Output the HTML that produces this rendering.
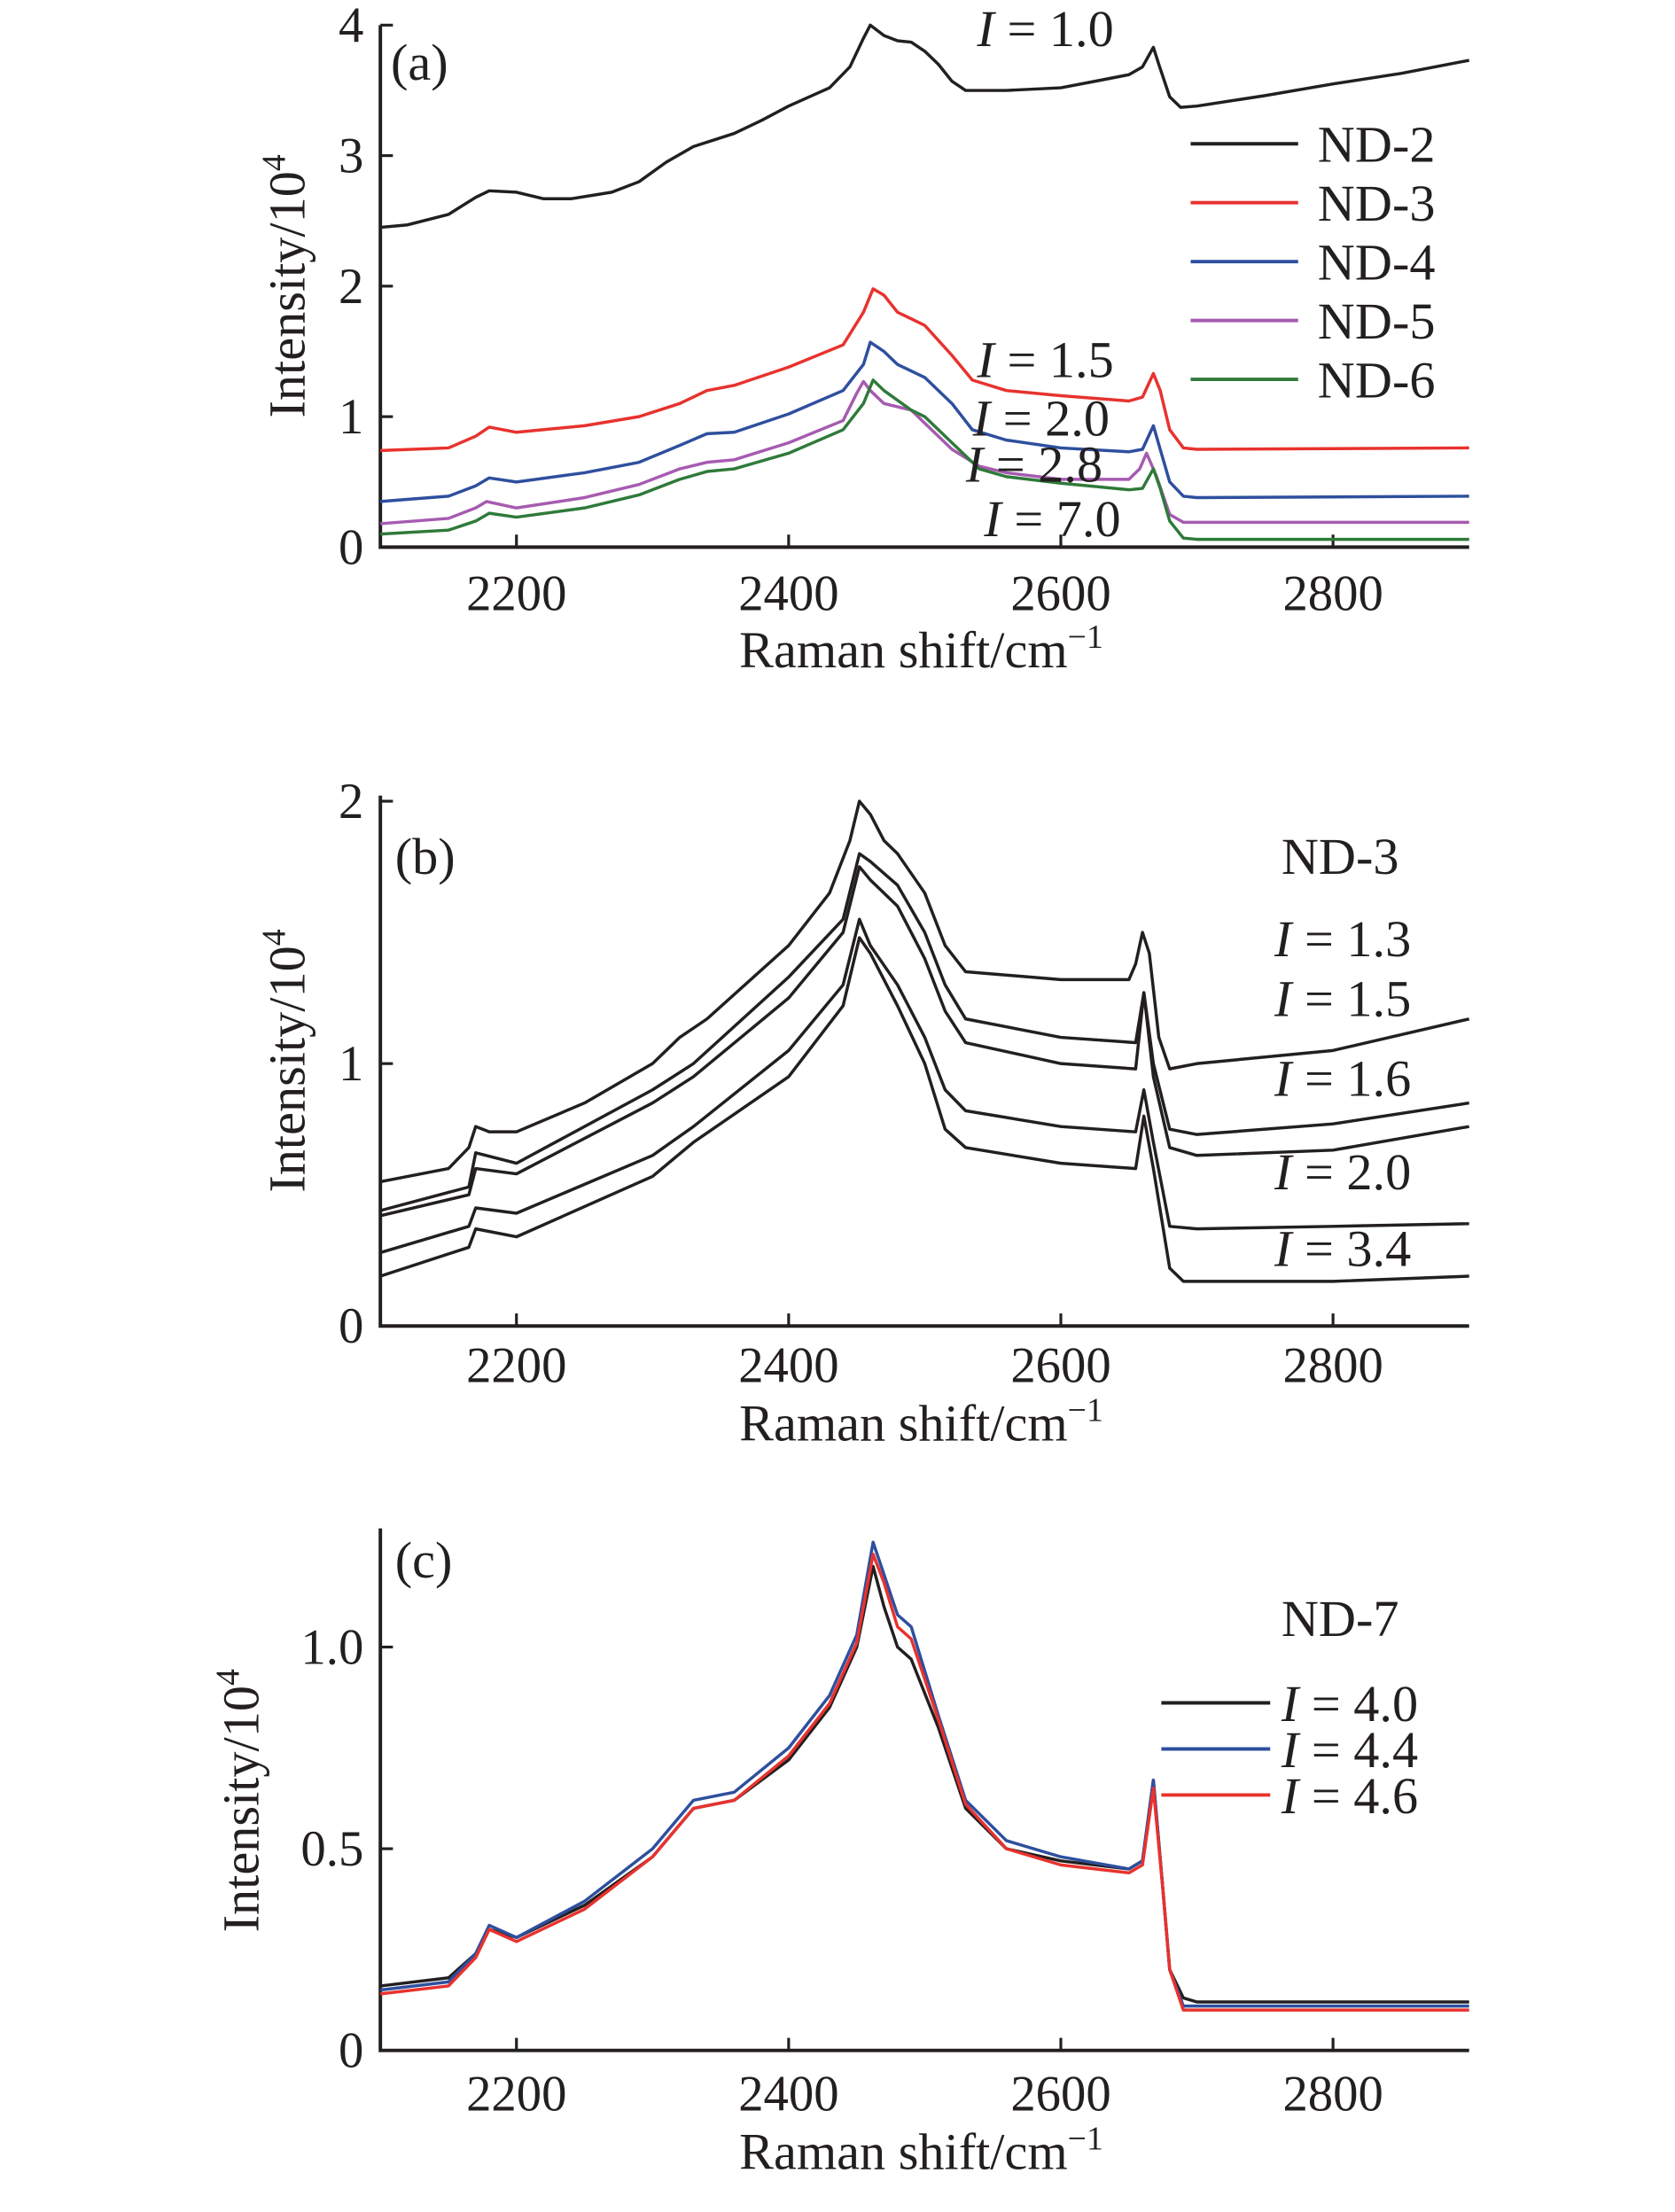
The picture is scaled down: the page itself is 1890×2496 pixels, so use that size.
<!DOCTYPE html>
<html><head><meta charset="utf-8"><style>
html,body{margin:0;padding:0;background:#fff}
svg{display:block}
text{font-family:"Liberation Serif",serif;fill:#231f20}
</style></head><body>
<svg id="fig" width="1890" height="2496" viewBox="0 0 1200 1584.76" xmlns="http://www.w3.org/2000/svg"></svg>
<script>
// ---- data (x: Raman shift cm^-1, y: intensity /10^4) ----
const xTicks=[2200,2400,2600,2800];
const aTicks=[0,1,2,3,4];
const bTicks=[0,1,2];
const cTicks=[0,0.5,1.0];
const cTickLabels=["0","0.5","1.0"];
const aNames=["ND-2","ND-3","ND-4","ND-5","ND-6"];
const aColors=["#231f20","#e8322e","#2e4f9e","#a65bb0","#2f7a3a"];
const aND2=[[2100,2.45],[2120,2.47],[2150,2.55],[2170,2.68],[2180,2.73],[2200,2.72],[2220,2.67],[2240,2.67],[2270,2.72],[2290,2.8],[2310,2.95],[2330,3.07],[2360,3.17],[2380,3.27],[2400,3.38],[2430,3.52],[2445,3.68],[2455,3.9],[2460,4.0],[2470,3.92],[2480,3.88],[2490,3.87],[2500,3.8],[2510,3.7],[2520,3.57],[2530,3.5],[2560,3.5],[2600,3.52],[2630,3.58],[2650,3.62],[2660,3.68],[2668,3.83],[2672,3.7],[2680,3.45],[2688,3.37],[2700,3.38],[2750,3.46],[2800,3.55],[2850,3.63],[2900,3.73]];
const aND3=[[2100,0.74],[2150,0.76],[2170,0.85],[2180,0.92],[2200,0.88],[2250,0.93],[2290,1.0],[2320,1.1],[2340,1.2],[2360,1.24],[2400,1.38],[2440,1.55],[2455,1.8],[2462,1.98],[2470,1.93],[2480,1.8],[2490,1.75],[2500,1.7],[2520,1.47],[2535,1.28],[2560,1.2],[2600,1.16],[2650,1.12],[2660,1.15],[2668,1.33],[2673,1.2],[2680,0.9],[2690,0.76],[2700,0.75],[2900,0.76]];
const aND4=[[2100,0.35],[2150,0.39],[2170,0.47],[2180,0.53],[2200,0.5],[2250,0.57],[2290,0.65],[2320,0.78],[2340,0.87],[2360,0.88],[2400,1.02],[2440,1.2],[2455,1.4],[2460,1.57],[2470,1.5],[2480,1.4],[2500,1.3],[2520,1.1],[2535,0.9],[2560,0.82],[2600,0.76],[2650,0.73],[2660,0.75],[2668,0.93],[2673,0.75],[2680,0.5],[2690,0.39],[2700,0.38],[2900,0.39]];
const aND5=[[2100,0.18],[2150,0.22],[2170,0.3],[2178,0.35],[2200,0.3],[2250,0.38],[2290,0.48],[2320,0.6],[2340,0.65],[2360,0.67],[2400,0.8],[2440,0.97],[2450,1.18],[2455,1.27],[2460,1.2],[2470,1.1],[2490,1.05],[2500,0.95],[2520,0.75],[2540,0.62],[2560,0.57],[2600,0.52],[2650,0.52],[2658,0.6],[2663,0.72],[2670,0.55],[2680,0.25],[2690,0.19],[2900,0.19]];
const aND6=[[2100,0.1],[2150,0.13],[2170,0.2],[2180,0.26],[2200,0.23],[2250,0.3],[2290,0.4],[2320,0.52],[2340,0.58],[2360,0.6],[2400,0.72],[2440,0.9],[2455,1.1],[2462,1.28],[2470,1.2],[2490,1.05],[2500,1.0],[2520,0.8],[2540,0.6],[2560,0.54],[2600,0.49],[2650,0.44],[2660,0.45],[2668,0.6],[2673,0.45],[2680,0.2],[2690,0.07],[2700,0.06],[2900,0.06]];
const bI13=[[2100,0.55],[2150,0.6],[2165,0.68],[2170,0.76],[2180,0.74],[2200,0.74],[2250,0.85],[2300,1.0],[2320,1.1],[2340,1.17],[2400,1.45],[2430,1.65],[2445,1.85],[2452,2.0],[2460,1.95],[2470,1.85],[2480,1.8],[2500,1.65],[2515,1.45],[2530,1.35],[2600,1.32],[2650,1.32],[2655,1.38],[2660,1.5],[2665,1.42],[2672,1.1],[2680,0.98],[2700,1.0],[2800,1.05],[2900,1.17]];
const bI15=[[2100,0.44],[2165,0.53],[2170,0.66],[2200,0.62],[2300,0.9],[2330,1.0],[2400,1.33],[2440,1.55],[2452,1.8],[2460,1.77],[2480,1.68],[2500,1.5],[2515,1.3],[2530,1.17],[2600,1.1],[2655,1.08],[2661,1.27],[2668,1.0],[2680,0.75],[2700,0.73],[2800,0.77],[2900,0.85]];
const bI16=[[2100,0.42],[2165,0.5],[2170,0.6],[2200,0.58],[2300,0.85],[2330,0.95],[2400,1.25],[2440,1.5],[2452,1.75],[2460,1.7],[2480,1.6],[2500,1.4],[2515,1.2],[2530,1.08],[2600,1.0],[2655,0.98],[2661,1.27],[2668,0.95],[2680,0.68],[2700,0.65],[2800,0.67],[2900,0.76]];
const bI20=[[2100,0.28],[2165,0.38],[2170,0.45],[2200,0.43],[2300,0.65],[2330,0.76],[2400,1.05],[2440,1.3],[2452,1.55],[2460,1.45],[2480,1.3],[2500,1.1],[2515,0.9],[2530,0.82],[2600,0.76],[2655,0.74],[2661,0.9],[2668,0.7],[2680,0.38],[2700,0.37],[2800,0.38],[2900,0.39]];
const bI34=[[2100,0.19],[2165,0.3],[2170,0.37],[2200,0.34],[2300,0.57],[2330,0.7],[2400,0.95],[2440,1.22],[2452,1.48],[2460,1.42],[2480,1.22],[2500,1.0],[2515,0.75],[2530,0.68],[2600,0.62],[2655,0.6],[2661,0.8],[2668,0.6],[2680,0.22],[2690,0.17],[2800,0.17],[2900,0.19]];
const cI40=[[2100,0.16],[2150,0.18],[2170,0.24],[2180,0.3],[2200,0.28],[2250,0.36],[2300,0.48],[2330,0.6],[2360,0.62],[2400,0.72],[2430,0.85],[2450,1.0],[2462,1.2],[2470,1.1],[2480,1.0],[2490,0.97],[2510,0.8],[2530,0.6],[2560,0.5],[2600,0.47],[2650,0.45],[2660,0.47],[2668,0.67],[2675,0.4],[2680,0.2],[2690,0.13],[2700,0.12],[2900,0.12]];
const cI44=[[2100,0.15],[2150,0.17],[2170,0.24],[2180,0.31],[2200,0.28],[2250,0.37],[2300,0.5],[2330,0.62],[2360,0.64],[2400,0.75],[2430,0.88],[2450,1.03],[2462,1.26],[2470,1.18],[2480,1.08],[2490,1.05],[2510,0.83],[2530,0.62],[2560,0.52],[2600,0.48],[2650,0.45],[2660,0.47],[2668,0.67],[2675,0.4],[2680,0.2],[2690,0.11],[2700,0.11],[2900,0.11]];
const cI46=[[2100,0.14],[2150,0.16],[2170,0.23],[2180,0.3],[2200,0.27],[2250,0.35],[2300,0.48],[2330,0.6],[2360,0.62],[2400,0.73],[2430,0.86],[2450,1.01],[2462,1.23],[2470,1.16],[2480,1.05],[2490,1.02],[2510,0.82],[2530,0.61],[2560,0.5],[2600,0.46],[2650,0.44],[2660,0.46],[2668,0.65],[2675,0.4],[2680,0.2],[2690,0.1],[2700,0.1],[2900,0.1]];

const NS="http://www.w3.org/2000/svg";
const svg=document.getElementById('fig');
function el(tag,attrs,parent){const e=document.createElementNS(NS,tag);for(const k in attrs)e.setAttribute(k,attrs[k]);(parent||svg).appendChild(e);return e;}
const X0=272.5,X1=1052.5;
function xs(v){return X0+(v-2100)/800*(X1-X0);}

function panel(id,y0,perUnit,top,ticks,labels,titleY,tickLblY,xTitleY,ytX){
  const g=el('g',{});
  
  
  const ys=v=>y0-v*perUnit;
  const ax=el('path',{d:`M${X0} ${top} V${y0} H${X1}`,fill:'none',stroke:'#231f20','stroke-width':2.5},g);
  
  
  ticks.forEach((t,i)=>{
    el('line',{x1:X0,x2:X0+9,y1:ys(t),y2:ys(t),stroke:'#231f20','stroke-width':2},g);
    const tx=el('text',{x:X0-12,y:ys(t)+12,'text-anchor':'end','font-size':36},g);
    tx.textContent=labels[i];
    
    
  });
  xTicks.forEach(t=>{
    el('line',{x1:xs(t),x2:xs(t),y1:y0,y2:y0-9,stroke:'#231f20','stroke-width':2},g);
    const tx=el('text',{x:xs(t),y:tickLblY,'text-anchor':'middle','font-size':36},g);
    tx.textContent=t;
    
    
  });
  const xt=el('text',{x:660,y:xTitleY,'text-anchor':'middle','font-size':37},g);
  xt.innerHTML='Raman shift/cm<tspan dy="-14" font-size="24">−1</tspan>';
  
  
  const yt=el('text',{x:0,y:0,'text-anchor':'middle','font-size':37,transform:`translate(${ytX},${titleY}) rotate(-90)`},g);
  yt.innerHTML='Intensity/10<tspan dy="-14" font-size="24">4</tspan>';
  
  
  return {g,ys};
}
function series(p,data,color,name){
  const d=data.map((pt,i)=>(i?'L':'M')+xs(pt[0]).toFixed(1)+' '+p.ys(pt[1]).toFixed(1)).join(' ');
  const path=el('path',{d,fill:'none',stroke:color,'stroke-width':2.2,'stroke-linejoin':'round'},p.g);
  
  
}
function label(g,x,y,html,name,size){
  const t=el('text',{x,y,'font-size':size||37},g);
  t.innerHTML=html;
  
  
}
const I='<tspan font-style="italic">I</tspan> = ';

// Panel a
const pa=panel('a',392,93.5,18,aTicks,aTicks.map(String),205,437,478,218);
[aND2,aND3,aND4,aND5,aND6].forEach((s,i)=>series(pa,s,aColors[i],'series-'+aNames[i].toLowerCase()));
aNames.forEach((n,i)=>{
  const y=103+i*42.2;
  const ln=el('line',{x1:853,x2:930,y1:y,y2:y,stroke:aColors[i],'stroke-width':2.5},pa.g);
  
  
  label(pa.g,944,y+13,n,'legend-entry-'+n.toLowerCase(),37);
});
label(pa.g,280,57,'(a)','panel-label-a');
label(pa.g,700,33,I+'1.0','annotation-i-1-0');
label(pa.g,700,270,I+'1.5','annotation-i-1-5');
label(pa.g,697,312,I+'2.0','annotation-i-2-0');
label(pa.g,692,345,I+'2.8','annotation-i-2-8');
label(pa.g,705,384,I+'7.0','annotation-i-7-0');

// Panel b
const pb=panel('b',950,188,570,bTicks,bTicks.map(String),760,990,1032,218);
[bI13,bI15,bI16,bI20,bI34].forEach((s,i)=>series(pb,s,'#231f20','series-b-'+i));
label(pb.g,283,626,'(b)','panel-label-b');
label(pb.g,918,626,'ND-3','sample-label-nd-3');
label(pb.g,913,685,I+'1.3','annotation-i-1-3');
label(pb.g,913,728,I+'1.5','annotation-i-1-5-b');
label(pb.g,913,785,I+'1.6','annotation-i-1-6');
label(pb.g,913,852,I+'2.0','annotation-i-2-0-b');
label(pb.g,913,907,I+'3.4','annotation-i-3-4');

// Panel c
const pc=panel('c',1469,289,1095,cTicks,cTickLabels,1290,1512,1554,185);
const cNames=['4.0','4.4','4.6'];
const cColors=['#231f20','#2e4f9e','#e8322e'];
[cI40,cI44,cI46].forEach((s,i)=>series(pc,s,cColors[i],'series-i-'+cNames[i].replace('.','-')));
label(pc.g,283,1130,'(c)','panel-label-c');
label(pc.g,918,1172,'ND-7','sample-label-nd-7');
cNames.forEach((n,i)=>{
  const y=1220+i*33;
  const ln=el('line',{x1:832,x2:910,y1:y,y2:y,stroke:cColors[i],'stroke-width':2.5},pc.g);
  
  
  label(pc.g,918,y+13,I+n,'legend-entry-i-'+n.replace('.','-'));
});
</script>
</body></html>
